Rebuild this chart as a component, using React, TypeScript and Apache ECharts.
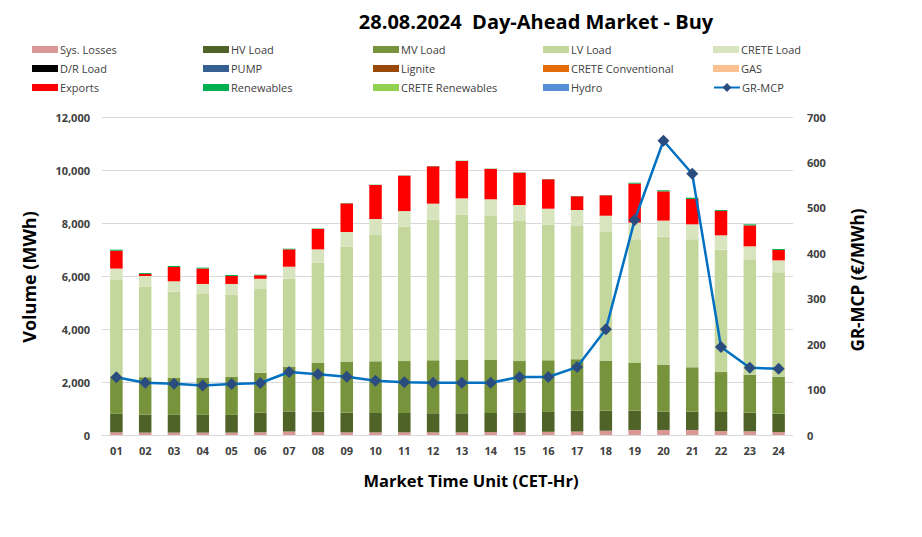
import React, { useEffect, useRef } from "react";
import * as echarts from "echarts";

const hours = ["01","02","03","04","05","06","07","08","09","10","11","12","13","14","15","16","17","18","19","20","21","22","23","24"];

const sysLosses = [100,90,90,90,90,100,130,110,100,100,100,100,100,110,110,120,130,160,190,190,190,150,140,110];
const hvLoad = [700,680,670,670,670,740,760,770,740,730,730,720,720,720,745,750,785,758,728,690,690,718,703,695];
const mvLoad = [1400,1410,1390,1390,1430,1510,1690,1850,1930,1950,1960,2000,2010,2000,1935,1950,1945,1887,1802,1775,1675,1507,1432,1395];
const lvLoad = [3650,3420,3260,3170,3110,3160,3320,3770,4340,4770,5070,5305,5485,5450,5285,5115,5025,4870,4665,4830,4830,4620,4330,3940];
const creteLoad = [430,400,390,380,400,390,450,505,550,600,590,605,615,615,605,605,605,600,630,605,565,540,515,450];
const drLoad = hours.map(() => 0);
const pump = hours.map(() => 0);
const lignite = hours.map(() => 0);
const creteConventional = hours.map(() => 0);
const gas = hours.map(() => 0);
const exportsVol = [675,75,540,580,300,125,655,770,1080,1285,1335,1410,1410,1145,1220,1110,520,770,1470,1105,955,920,790,390];
const renewables = [40,35,40,35,40,25,25,15,10,10,10,10,10,10,10,10,10,10,35,40,50,35,40,40];
const creteRenewables = hours.map(() => 0);
const hydro = hours.map(() => 0);
const grMcp = [127,115,113,109,112,114.5,138.7,133.5,128.4,119.6,116,115,115,115,127.7,127.7,149.5,232.6,473,647.8,575,193.7,148,146];

const FONT = "Open Sans";

const barSeries = [
  { name: "Sys. Losses", data: sysLosses, color: "#D99795" },
  { name: "HV Load", data: hvLoad, color: "#4F6228" },
  { name: "MV Load", data: mvLoad, color: "#77933C" },
  { name: "LV Load", data: lvLoad, color: "#C3D69B" },
  { name: "CRETE Load", data: creteLoad, color: "#D7E4BD" },
  { name: "D/R Load", data: drLoad, color: "#000000" },
  { name: "PUMP", data: pump, color: "#376092" },
  { name: "Lignite", data: lignite, color: "#984807" },
  { name: "CRETE Conventional", data: creteConventional, color: "#E46C0A" },
  { name: "GAS", data: gas, color: "#FAC090" },
  { name: "Exports", data: exportsVol, color: "#FF0000" },
  { name: "Renewables", data: renewables, color: "#00B050" },
  { name: "CRETE Renewables", data: creteRenewables, color: "#92D050" },
  { name: "Hydro", data: hydro, color: "#558ED5" },
];

const legendOrder = [
  "Sys. Losses", "HV Load", "MV Load", "LV Load", "CRETE Load",
  "D/R Load", "PUMP", "Lignite", "CRETE Conventional", "GAS",
  "Exports", "Renewables", "CRETE Renewables", "Hydro", "GR-MCP",
];

export default function App() {
  const ref = useRef<HTMLDivElement>(null);
  useEffect(() => {
    if (!ref.current) return;
    const chart = echarts.init(ref.current, null, { renderer: "svg" });
    const colX = [32, 203, 373, 543, 713];
    const rowY = [44, 63, 82];
    const legends = legendOrder.map((name, i) => {
      const isLine = name === "GR-MCP";
      return {
        show: true,
        data: [name],
        left: colX[i % 5],
        top: rowY[Math.floor(i / 5)],
        itemWidth: 26,
        itemHeight: isLine ? 11 : 7,
        itemGap: 2,
        padding: 0,
        icon: isLine ? undefined : "rect",
        textStyle: { fontFamily: FONT, fontSize: 11, color: "#404040", padding: [0, 0, 0, -3] },
        selectedMode: false,
      };
    });
    const option: any = {
      animation: false,
      backgroundColor: "#ffffff",
      textStyle: { fontFamily: FONT },
      legend: legends,
      grid: { left: 102, right: 129, top: 117, bottom: 102, containLabel: false },
      xAxis: {
        type: "category",
        data: hours,
        axisLine: { show: true, lineStyle: { color: "#D9D9D9" } },
        axisTick: { show: false },
        axisLabel: { fontFamily: FONT, fontSize: 11, fontWeight: "bold", color: "#404040", margin: 10 },
      },
      yAxis: [
        {
          type: "value",
          min: 0,
          max: 12000,
          interval: 2000,
          axisLine: { show: false },
          axisTick: { show: false },
          splitLine: { lineStyle: { color: "#D9D9D9", width: 1 } },
          axisLabel: {
            fontFamily: FONT, fontSize: 11, fontWeight: "bold", color: "#404040", margin: 12,
            formatter: (v: number) => v.toLocaleString("en-US"),
          },
        },
        {
          type: "value",
          min: 0,
          max: 700,
          interval: 100,
          axisLine: { show: false },
          axisTick: { show: false },
          splitLine: { show: false },
          axisLabel: { fontFamily: FONT, fontSize: 11, fontWeight: "bold", color: "#404040", margin: 14 },
        },
      ],
      series: [
        ...barSeries.map((s) => ({
          name: s.name,
          type: "bar",
          stack: "vol",
          barWidth: 12.5,
          data: s.data,
          itemStyle: { color: s.color },
          emphasis: { disabled: true },
        })),
        {
          name: "GR-MCP",
          type: "line",
          yAxisIndex: 1,
          data: grMcp,
          symbol: "diamond",
          symbolSize: 12,
          lineStyle: { color: "#0070C0", width: 2.5 },
          itemStyle: { color: "#2B4C7E" },
          z: 10,
        },
      ],
      graphic: [
        {
          type: "text",
          x: 536,
          y: 21,
          style: {
            text: "28.08.2024  Day-Ahead Market - Buy",
            fontFamily: FONT, fontSize: 20, fontWeight: "bold", fill: "#000000",
            textAlign: "center", textVerticalAlign: "middle",
          },
        },
        {
          type: "text",
          x: 29,
          y: 277,
          rotation: Math.PI / 2,
          style: {
            text: "Volume (MWh)",
            fontFamily: FONT, fontSize: 18, fontWeight: "bold", fill: "#000000",
            textAlign: "center", textVerticalAlign: "middle",
          },
        },
        {
          type: "text",
          x: 857,
          y: 280,
          rotation: Math.PI / 2,
          style: {
            text: "GR-MCP (€/MWh)",
            fontFamily: FONT, fontSize: 17, fontWeight: "bold", fill: "#000000",
            textAlign: "center", textVerticalAlign: "middle",
          },
        },
        {
          type: "text",
          x: 471,
          y: 480,
          style: {
            text: "Market Time Unit (CET-Hr)",
            fontFamily: FONT, fontSize: 16.5, fontWeight: "bold", fill: "#000000",
            textAlign: "center", textVerticalAlign: "middle",
          },
        },
      ],
    };
    chart.setOption(option);
    return () => chart.dispose();
  }, []);
  return (
    <div
      ref={ref}
      style={{ position: "fixed", left: 0, top: 0, width: 922, height: 537, background: "#fff" }}
    />
  );
}
